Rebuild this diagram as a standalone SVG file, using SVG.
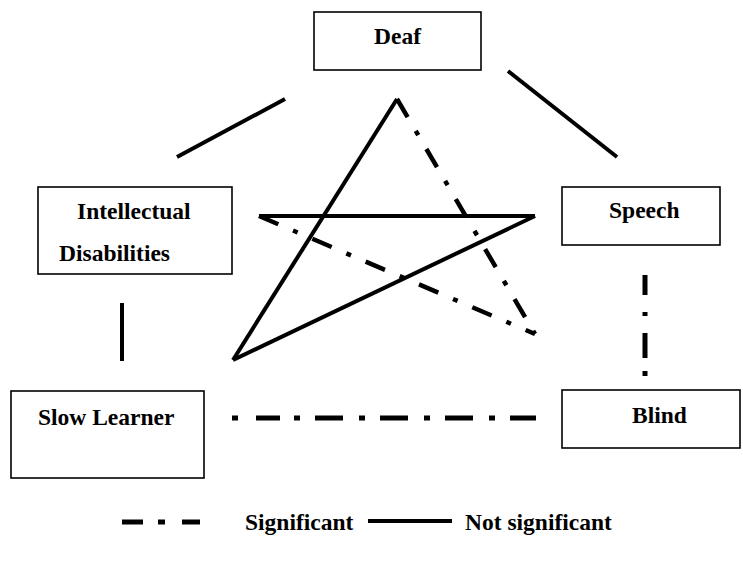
<svg xmlns="http://www.w3.org/2000/svg" width="743" height="565" viewBox="0 0 743 565">
<style>
.box{fill:#fff;stroke:#000;stroke-width:1.6}
.t{font-family:"Liberation Serif","Times New Roman",serif;font-weight:bold;font-size:23.5px;fill:#000}
.s{fill:none;stroke:#000;stroke-width:4}
.d{fill:none;stroke:#000;stroke-width:4.5;stroke-dasharray:21 16 5 16}
.h{fill:none;stroke:#000;stroke-width:5;stroke-dasharray:28 14 6 16}
</style>
<rect width="743" height="565" fill="#fff"/>
<g id="connectors">
<line class="s" x1="177" y1="157" x2="285" y2="99"/>
<line class="s" x1="508" y1="71" x2="617" y2="157"/>
<line class="s" x1="122" y1="303" x2="122" y2="361"/>
<line class="s" x1="397" y1="99" x2="233" y2="360"/>
<line class="s" x1="259" y1="216" x2="535" y2="216"/>
<line class="s" x1="535" y1="216" x2="233" y2="360"/>
<line class="d" x1="397" y1="99" x2="535" y2="334"/>
<line class="d" x1="259" y1="216" x2="535" y2="334"/>
<line class="h" x1="645" y1="275" x2="645" y2="376" style="stroke-dasharray:20 17 4 17 25 13 5 100"/>
<line class="h" x1="232" y1="418" x2="536" y2="418" style="stroke-dasharray:6 18 24 14 6 15 28 16 6 15 28 16 6 15 28 16 6 15 22 0"/>
</g>
<g id="deaf"><rect class="box" x="314" y="12" width="167" height="58"/><text class="t" x="374" y="44">Deaf</text></g>
<g id="intellectual"><rect class="box" x="38" y="187" width="194" height="87"/><text class="t" x="77" y="219">Intellectual</text><text class="t" x="59" y="261">Disabilities</text></g>
<g id="speech"><rect class="box" x="562" y="187" width="158" height="58"/><text class="t" x="609" y="218">Speech</text></g>
<g id="slow"><rect class="box" x="11" y="391" width="193" height="87"/><text class="t" x="38" y="425">Slow Learner</text></g>
<g id="blind"><rect class="box" x="562" y="390" width="178" height="58"/><text class="t" x="632" y="423">Blind</text></g>
<g id="legend">
<line class="s" x1="122" y1="522" x2="143" y2="522" style="stroke-width:5"/>
<line class="s" x1="158" y1="522" x2="165" y2="522" style="stroke-width:5"/>
<line class="s" x1="182" y1="522" x2="200" y2="522" style="stroke-width:5"/>
<text class="t" x="245" y="530">Significant</text>
<line class="s" x1="368" y1="521" x2="452" y2="521"/>
<text class="t" x="465" y="530">Not significant</text>
</g>
</svg>
